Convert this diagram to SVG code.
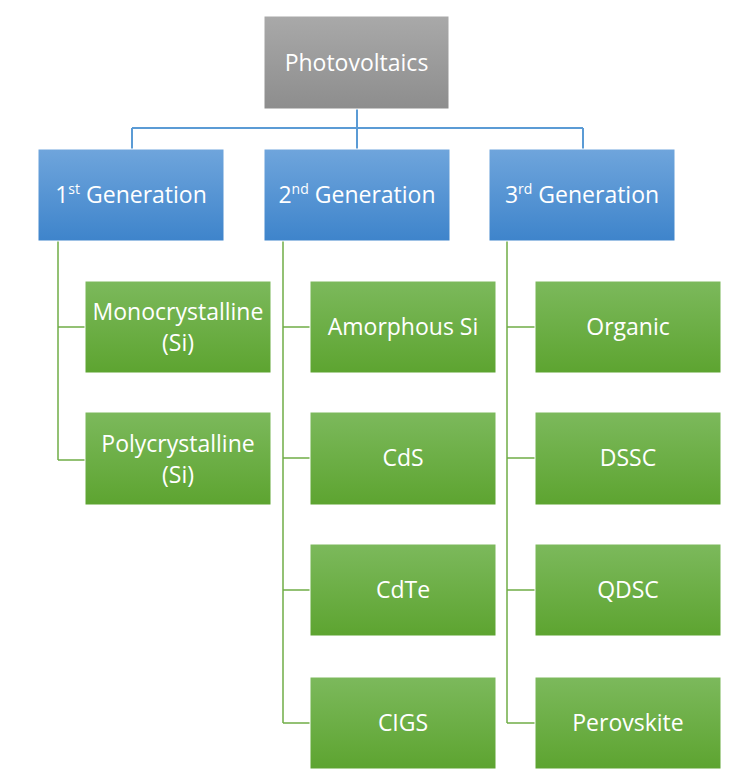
<svg xmlns="http://www.w3.org/2000/svg" width="736" height="770" viewBox="0 0 736 770">
<defs>
<linearGradient id="gGrey" x1="0" y1="0" x2="0" y2="1"><stop offset="0" stop-color="#a9a9a9"/><stop offset="1" stop-color="#8d8d8d"/></linearGradient>
<linearGradient id="gBlue" x1="0" y1="0" x2="0" y2="1"><stop offset="0" stop-color="#6fa5dc"/><stop offset="1" stop-color="#3e84cb"/></linearGradient>
<linearGradient id="gGreen" x1="0" y1="0" x2="0" y2="1"><stop offset="0" stop-color="#7cb95c"/><stop offset="1" stop-color="#5da430"/></linearGradient>
<style>
.box{stroke:#ffffff;stroke-width:1}
.grey{fill:url(#gGrey)}
.blue{fill:url(#gBlue)}
.green{fill:url(#gGreen)}
text{font-family:"Open Sans","Noto Sans","Liberation Sans",sans-serif;fill:#ffffff;font-size:23px;text-anchor:middle}
.sup{font-size:14px}
.cb{fill:none;stroke:#5b9bd5;stroke-width:2}
.cg{fill:none;stroke:#70ad47;stroke-width:1.5}
</style>
</defs>
<rect width="736" height="770" fill="#ffffff"/>
<g id="connectors">
<path class="cb" d="M357 109V128M132 128H583M132 128V149M357 128V149M583 128V149"/>
<path class="cg" d="M58 241V460M58 327H85M58 460H85"/>
<path class="cg" d="M283 241V723M283 327H310M283 458H310M283 590H310M283 723H310"/>
<path class="cg" d="M507 241V723M507 327H535M507 458H535M507 590H535M507 723H535"/>
</g>
<g id="photovoltaics"><rect class="box grey" x="264" y="16" width="185" height="93"/><text x="356.5" y="71">Photovoltaics</text></g>
<g id="gen1"><rect class="box blue" x="38" y="149" width="186" height="92"/><text x="131" y="203">1<tspan class="sup" dy="-9">st</tspan><tspan dy="9"> Generation</tspan></text></g>
<g id="gen2"><rect class="box blue" x="264" y="149" width="186" height="92"/><text x="357" y="203">2<tspan class="sup" dy="-9">nd</tspan><tspan dy="9"> Generation</tspan></text></g>
<g id="gen3"><rect class="box blue" x="489" y="149" width="186" height="92"/><text x="582" y="203">3<tspan class="sup" dy="-9">rd</tspan><tspan dy="9"> Generation</tspan></text></g>
<g id="mono"><rect class="box green" x="85" y="281" width="186" height="92"/><text x="178" y="320">Monocrystalline</text><text x="178" y="351">(Si)</text></g>
<g id="poly"><rect class="box green" x="85" y="412" width="186" height="93"/><text x="178" y="452">Polycrystalline</text><text x="178" y="483">(Si)</text></g>
<g id="amorphous"><rect class="box green" x="310" y="281" width="186" height="92"/><text x="403" y="335">Amorphous Si</text></g>
<g id="cds"><rect class="box green" x="310" y="412" width="186" height="93"/><text x="403" y="466">CdS</text></g>
<g id="cdte"><rect class="box green" x="310" y="544" width="186" height="92"/><text x="403" y="598">CdTe</text></g>
<g id="cigs"><rect class="box green" x="310" y="677" width="186" height="92"/><text x="403" y="731">CIGS</text></g>
<g id="organic"><rect class="box green" x="535" y="281" width="186" height="92"/><text x="628" y="335">Organic</text></g>
<g id="dssc"><rect class="box green" x="535" y="412" width="186" height="93"/><text x="628" y="466">DSSC</text></g>
<g id="qdsc"><rect class="box green" x="535" y="544" width="186" height="92"/><text x="628" y="598">QDSC</text></g>
<g id="perovskite"><rect class="box green" x="535" y="677" width="186" height="92"/><text x="628" y="731">Perovskite</text></g>
</svg>
